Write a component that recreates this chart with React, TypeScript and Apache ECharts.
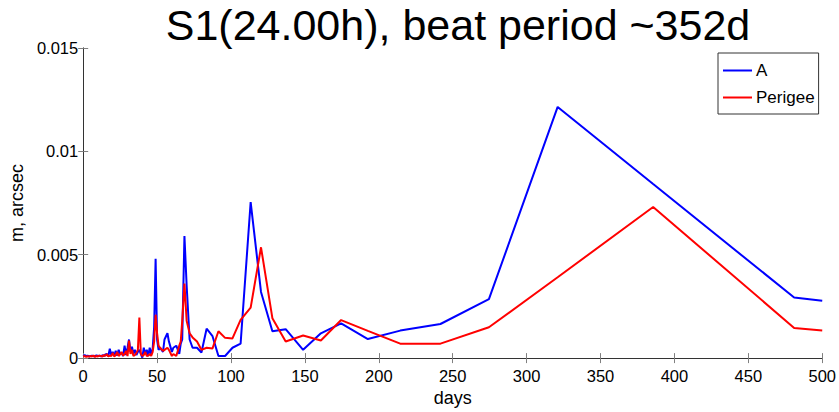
import React, { useEffect, useRef } from "react";
import * as echarts from "echarts";

const titleText = "S1(24.00h), beat period ~352d";
const xName = "days";
const yName = "m, arcsec";
const seriesNames = ["A", "Perigee"];

const days: number[] = [
  0, 1, 2, 3, 4, 5, 6, 7, 8, 9, 10, 11, 12, 13, 14, 15, 16, 17, 18, 19, 20, 21, 22, 23,
  24, 25, 26, 27, 28, 29, 30, 31, 32, 33, 34, 35, 36, 37, 38, 39, 40, 41, 42, 43, 44, 45, 46, 47,
  48, 49, 50, 51, 52, 54, 55, 57, 58, 60, 61, 63, 65, 66, 67, 68.5, 70, 72, 74, 77, 80, 83.5,
  87.5, 91.5, 96, 101, 106.5, 113.3, 120.3, 128, 137, 148.8, 160.8, 174.5, 192.6, 214.5, 241.7,
  274.5, 321, 385.6, 481, 500,
];

const seriesA: number[] = [
  0.0001, 0.00015, 0.0001, 0.00012, 0.00008, 0.0001, 0.00012, 0.00009, 0.0001, 0.00013, 0.0001,
  0.00012, 0.00008, 0.00014, 0.0001, 0.00018, 0.0002, 0.0001, 0.00045, 0.00015, 0.0003, 0.0001,
  0.00035, 0.00012, 0.0004, 0.0002, 0.00025, 0.0001, 0.0006, 0.00015, 0.0005, 0.0009, 0.0003,
  0.00055, 0.0002, 0.0004, 0.00015, 0.0003, 0.0004, 0.0002, 0.00002, 0.0005, 0.0002, 0.0004,
  0.0001, 0.0005, 0.0002, 0.00045,
  0.0015, 0.0048, 0.0009, 0.0004, 0.0005, 0.0003, 0.0009, 0.0012, 0.0008, 0.0003, 0.0005, 0.0006,
  0.0002, 0.0007, 0.0009, 0.0059, 0.0035, 0.0009, 0.0005, 0.0005, 0.00027, 0.00142, 0.00106,
  0.0001, 0.0001, 0.0005, 0.0007, 0.00755, 0.0032, 0.0013, 0.0014, 0.0004, 0.0012, 0.00168,
  0.00092, 0.00133, 0.00165, 0.00285, 0.01215, 0.00842, 0.00293, 0.00277,
];

const seriesPerigee: number[] = [
  0.00008, 0.0001, 0.00006, 0.00009, 0.00007, 0.0001, 0.00008, 0.00012, 0.00006, 0.0001, 0.00008,
  0.00012, 0.0001, 0.00008, 0.00015, 0.0001, 0.0002, 0.00008, 0.00012, 0.0001, 0.00025, 0.00008,
  0.00015, 0.0003, 0.0001, 0.00018, 0.0003, 0.00012, 0.0002, 0.00035, 0.0001, 0.00085, 0.0002,
  0.0004, 0.0001, 0.00015, 0.00025, 0.0004, 0.00196, 0.0002, 0.0001, 0.00015, 0.0003, 0.0001,
  0.00012, 0.0002, 0.0001, 0.0003,
  0.0008, 0.0021, 0.0012, 0.0006, 0.0005, 0.00035, 0.0004, 0.0005, 0.0004, 0.0001, 0.0002, 0.0001,
  0.0006, 0.0008, 0.0018, 0.0036, 0.0018, 0.0012, 0.001, 0.0008, 0.0004, 0.0005, 0.00047, 0.0013,
  0.00098, 0.00095, 0.00185, 0.00244, 0.00536, 0.00193, 0.0008, 0.00109, 0.00085, 0.00184,
  0.00132, 0.0007, 0.0007, 0.00149, 0.00391, 0.00731, 0.00146, 0.00134,
];

const FONT = "'Liberation Sans', Arial, sans-serif";

export default function App() {
  const ref = useRef<HTMLDivElement>(null);
  useEffect(() => {
    if (!ref.current) return;
    const chart = echarts.init(ref.current, null, { renderer: "svg" });
    const pairs = (vals: number[]) => days.map((d, i) => [d, vals[i]]);
    const frameColor = "#808080";
    chart.setOption({
      animation: false,
      backgroundColor: "#ffffff",
      textStyle: { fontFamily: FONT },
      grid: { left: 76, right: 16, top: 48, bottom: 48, containLabel: false },
      graphic: [
        {
          type: "text",
          x: 458,
          y: 25,
          style: {
            text: titleText,
            fontSize: 43,
            fontFamily: FONT,
            fill: "#000",
            align: "center",
            verticalAlign: "middle",
          },
        },
      ],
      legend: {
        orient: "vertical",
        left: 718,
        top: 53,
        data: seriesNames,
        icon: "rect",
        itemWidth: 29,
        itemHeight: 2,
        itemGap: 10,
        padding: [9, 4, 8, 5],
        borderColor: "#333",
        borderWidth: 1,
        backgroundColor: "#fff",
        textStyle: { fontSize: 17, color: "#000", fontFamily: FONT, padding: [0, 0, 0, -1] },
      },
      xAxis: [
        {
          type: "value",
          min: 0,
          max: 500,
          interval: 50,
          name: xName,
          nameLocation: "middle",
          nameGap: 30,
          nameTextStyle: { fontSize: 18, color: "#000", fontFamily: FONT },
          axisLine: { show: true, lineStyle: { color: frameColor, width: 1 } },
          axisTick: { show: true, inside: true, length: 5, lineStyle: { color: frameColor } },
          axisLabel: { fontSize: 16.5, color: "#000", margin: 9, fontFamily: FONT },
          splitLine: { show: false },
        },
        {
          type: "value",
          position: "top",
          min: 0,
          max: 500,
          interval: 50,
          axisLine: { show: true, lineStyle: { color: "#333", width: 1 } },
          axisTick: { show: true, inside: true, length: 5, lineStyle: { color: frameColor } },
          axisLabel: { show: false },
          splitLine: { show: false },
        },
      ],
      yAxis: [
        {
          type: "value",
          min: 0,
          max: 0.015,
          interval: 0.005,
          name: yName,
          nameLocation: "middle",
          nameGap: 48,
          nameRotate: 90,
          nameTextStyle: { fontSize: 18, color: "#000", fontFamily: FONT },
          axisLine: { show: true, lineStyle: { color: frameColor, width: 1 } },
          axisTick: { show: true, inside: true, length: 5, lineStyle: { color: frameColor } },
          axisLabel: { fontSize: 16.5, color: "#000", margin: 5, fontFamily: FONT },
          splitLine: { show: false },
        },
        {
          type: "value",
          position: "right",
          min: 0,
          max: 0.015,
          interval: 0.005,
          axisLine: { show: true, lineStyle: { color: "#333", width: 1 } },
          axisTick: { show: true, inside: true, length: 5, lineStyle: { color: frameColor } },
          axisLabel: { show: false },
          splitLine: { show: false },
        },
      ],
      series: [
        {
          name: seriesNames[0],
          type: "line",
          data: pairs(seriesA),
          showSymbol: false,
          symbol: "none",
          lineStyle: { color: "#0000ff", width: 2 },
          itemStyle: { color: "#0000ff" },
          clip: true,
        },
        {
          name: seriesNames[1],
          type: "line",
          data: pairs(seriesPerigee),
          showSymbol: false,
          symbol: "none",
          lineStyle: { color: "#ff0000", width: 2 },
          itemStyle: { color: "#ff0000" },
          clip: true,
        },
      ],
    });
    return () => chart.dispose();
  }, []);
  return <div ref={ref} style={{ width: 839, height: 412, position: "absolute", left: 0, top: 0 }} />;
}
